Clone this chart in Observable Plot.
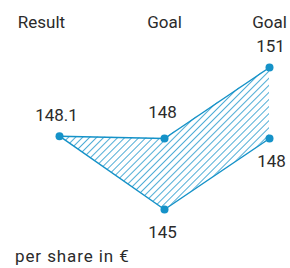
<!DOCTYPE html>
<html>
<head>
<meta charset="utf-8">
<script src="https://cdn.jsdelivr.net/npm/d3@7"></script>
<script src="https://cdn.jsdelivr.net/npm/@observablehq/plot@0.6"></script>
<style>
  html, body { margin: 0; padding: 0; background: #fff; }
  body { width: 290px; height: 268px; overflow: hidden; font-family: Roboto, sans-serif; }
  #chart svg { display: block; }
  #caption { font-size: 17px; color: #2b2b2b; margin-left: 15px; line-height: 20px; letter-spacing: 0.9px; }
</style>
</head>
<body>
<div id="chart"></div>
<div id="caption">per share in €</div>
<script>
const categories = ["Result", "Goal", "Goal"];
const upper = [148.1, 148, 151];
const lower = [148.1, 145, 148];
const upperLabels = ["148.1", "148", "151"];
const lowerLabels = ["", "145", "148"];

const data = categories.map((c, i) => ({i, c, up: upper[i], lo: lower[i], ul: upperLabels[i], ll: lowerLabels[i]}));
const color = "#1592c8";
const ink = "#2b2b2b";

const plot = Plot.plot({
  width: 290,
  height: 246,
  marginLeft: 59,
  marginRight: 21,
  marginTop: 67,
  marginBottom: 37,
  x: {domain: [0, 2], axis: null},
  y: {domain: [145, 151], axis: null},
  style: {fontFamily: "Roboto, sans-serif", fontSize: "17px", color: ink, background: "white", overflow: "visible"},
  marks: [
    Plot.areaY(data, {x: "i", y1: "lo", y2: "up", fill: "url(#hatch)"}),
    Plot.line(data, {x: "i", y: "up", stroke: color, strokeWidth: 1.5}),
    Plot.line(data, {x: "i", y: "lo", stroke: color, strokeWidth: 1.5}),
    Plot.dot(data, {x: "i", y: "up", r: 4, fill: color}),
    Plot.dot(data.filter(d => d.i > 0), {x: "i", y: "lo", r: 4, fill: color}),
    Plot.text(data.filter(d => d.i === 0), {x: "i", frameAnchor: "top", lineAnchor: "middle", text: "c", dy: -45, dx: -18, fill: ink, fontSize: 17, letterSpacing: "0.6px"}),
    Plot.text(data.filter(d => d.i > 0), {x: "i", frameAnchor: "top", lineAnchor: "middle", text: "c", dy: -45, dx: 0, fill: ink, fontSize: 17, letterSpacing: "0.3px"}),
    Plot.text(data.filter(d => d.i === 0), {x: "i", y: "up", text: "ul", dy: -21, dx: -3, fill: ink, fontSize: 17}),
    Plot.text(data.filter(d => d.i === 2), {x: "i", y: "up", text: "ul", dy: -21, dx: 1, fill: ink, fontSize: 17}),
    Plot.text(data.filter(d => d.i === 1), {x: "i", y: "up", text: "ul", dy: -26, dx: -2, fill: ink, fontSize: 17}),
    Plot.text(data.filter(d => d.i === 1), {x: "i", y: "lo", text: "ll", dy: 23, dx: -2, fill: ink, fontSize: 17}),
    Plot.text(data.filter(d => d.i === 2), {x: "i", y: "lo", text: "ll", dy: 23, dx: 2, fill: ink, fontSize: 17})
  ]
});

const ns = "http://www.w3.org/2000/svg";
const defs = document.createElementNS(ns, "defs");
const pat = document.createElementNS(ns, "pattern");
pat.setAttribute("id", "hatch");
pat.setAttribute("patternUnits", "userSpaceOnUse");
pat.setAttribute("width", "5");
pat.setAttribute("height", "5");
pat.setAttribute("patternTransform", "rotate(45)");
const ln = document.createElementNS(ns, "line");
ln.setAttribute("x1", "0"); ln.setAttribute("y1", "-1");
ln.setAttribute("x2", "0"); ln.setAttribute("y2", "6");
ln.setAttribute("stroke", color);
ln.setAttribute("stroke-width", "1.5");
pat.appendChild(ln);
defs.appendChild(pat);
plot.insertBefore(defs, plot.firstChild);

document.getElementById("chart").appendChild(plot);
</script>
</body>
</html>
